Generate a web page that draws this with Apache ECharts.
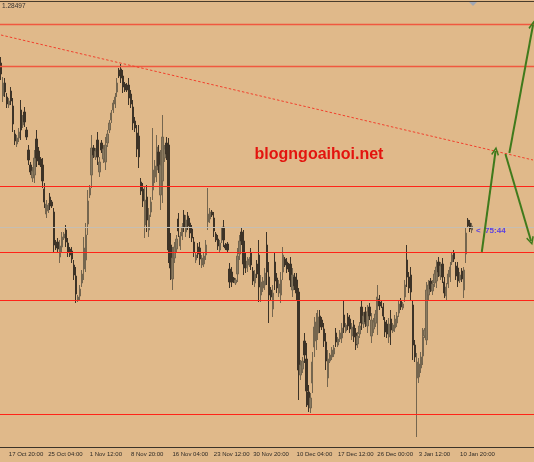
<!DOCTYPE html>
<html>
<head>
<meta charset="utf-8">
<script src="https://cdn.jsdelivr.net/npm/echarts@6/dist/echarts.min.js"></script>
<style>
  html, body { margin: 0; padding: 0; background: #e0b98a; }
  #chart { width: 534px; height: 462px; }
</style>
</head>
<body>
<div id="chart"></div>
<script>
// Candle prices (open / close / low / high), oldest first
const opens = [
  1.2790,1.2757,1.2770,1.2756,1.2748,1.2762,1.2747,1.2719,1.2709,1.2715,
  1.2743,1.2728,1.2741,1.2723,1.2703,1.2688,1.2675,1.2678,1.2714,1.2702,
  1.2694,1.2688,1.2664,1.2639,1.2642,1.2656,1.2651,1.2641,1.2611,1.2611,
  1.2596,1.2606,1.2615,1.2623,1.2610,1.2604,1.2602,1.2588,1.2577,1.2553,
  1.2557,1.2570,1.2584,1.2593,1.2629,1.2658,1.2678,1.2705,1.2696,1.2713,
  1.2681,1.2710,1.2694,1.2691,1.2710,1.2723,1.2733,1.2743,1.2749,1.2761,
  1.2783,1.2784,1.2777,1.2769,1.2768,1.2768,1.2759,1.2746,1.2732,1.2720,
  1.2717,1.2671,1.2664,1.2628,1.2656,1.2623,1.2641,1.2663,1.2676,1.2683,
  1.2701,1.2658,1.2672,1.2695,1.2710,1.2708,1.2608,1.2574,1.2595,1.2604,
  1.2634,1.2607,1.2617,1.2638,1.2621,1.2637,1.2630,1.2624,1.2611,1.2593,
  1.2606,1.2605,1.2588,1.2589,1.2598,1.2631,1.2634,1.2641,1.2635,1.2619,
  1.2614,1.2603,1.2614,1.2626,1.2608,1.2609,1.2584,1.2581,1.2575,1.2570,
  1.2579,1.2599,1.2621,1.2612,1.2595,1.2585,1.2588,1.2600,1.2582,1.2570,
  1.2589,1.2598,1.2558,1.2565,1.2568,1.2608,1.2576,1.2563,1.2544,1.2591,
  1.2575,1.2560,1.2558,1.2581,1.2594,1.2591,1.2588,1.2589,1.2563,1.2576,
  1.2573,1.2561,1.2478,1.2484,1.2512,1.2494,1.2461,1.2445,1.2470,1.2506,
  1.2512,1.2520,1.2537,1.2533,1.2524,1.2511,1.2475,1.2492,1.2496,1.2499,
  1.2520,1.2508,1.2514,1.2515,1.2538,1.2522,1.2536,1.2534,1.2517,1.2528,
  1.2520,1.2509,1.2519,1.2546,1.2529,1.2541,1.2527,1.2546,1.2517,1.2524,
  1.2530,1.2530,1.2554,1.2551,1.2546,1.2531,1.2529,1.2516,1.2534,1.2522,
  1.2525,1.2530,1.2540,1.2552,1.2545,1.2556,1.2593,1.2576,1.2578,1.2548,
  1.2508,1.2475,1.2476,1.2485,1.2497,1.2517,1.2513,1.2558,1.2572,1.2562,
  1.2570,1.2572,1.2591,1.2577,1.2589,1.2571,1.2557,1.2569,1.2576,1.2591,
  1.2600,1.2587,1.2585,1.2573,1.2582,1.2563,1.2599,1.2633,1.2630,1.2623
];
const closes = [
  1.2779,1.2770,1.2761,1.2749,1.2752,1.2752,1.2729,1.2712,1.2715,1.2721,
  1.2723,1.2735,1.2731,1.2716,1.2693,1.2681,1.2682,1.2695,1.2695,1.2692,
  1.2688,1.2672,1.2651,1.2649,1.2648,1.2647,1.2647,1.2608,1.2605,1.2604,
  1.2607,1.2616,1.2619,1.2611,1.2601,1.2598,1.2594,1.2578,1.2559,1.2556,
  1.2564,1.2579,1.2605,1.2618,1.2652,1.2665,1.2705,1.2698,1.2702,1.2696,
  1.2691,1.2703,1.2704,1.2708,1.2719,1.2730,1.2740,1.2750,1.2756,1.2770,
  1.2777,1.2775,1.2766,1.2763,1.2763,1.2755,1.2749,1.2730,1.2725,1.2704,
  1.2696,1.2662,1.2652,1.2653,1.2633,1.2638,1.2651,1.2683,1.2687,1.2706,
  1.2687,1.2688,1.2716,1.2704,1.2699,1.2603,1.2585,1.2595,1.2606,1.2614,
  1.2622,1.2617,1.2626,1.2626,1.2633,1.2627,1.2620,1.2615,1.2601,1.2598,
  1.2599,1.2594,1.2595,1.2597,1.2608,1.2639,1.2641,1.2638,1.2622,1.2613,
  1.2607,1.2610,1.2622,1.2613,1.2605,1.2603,1.2571,1.2571,1.2571,1.2573,
  1.2597,1.2612,1.2612,1.2589,1.2585,1.2592,1.2594,1.2588,1.2572,1.2579,
  1.2579,1.2566,1.2571,1.2572,1.2580,1.2581,1.2558,1.2556,1.2560,1.2572,
  1.2565,1.2569,1.2573,1.2598,1.2588,1.2584,1.2583,1.2573,1.2578,1.2567,
  1.2560,1.2483,1.2488,1.2492,1.2498,1.2462,1.2448,1.2455,1.2491,1.2526,
  1.2531,1.2536,1.2526,1.2526,1.2512,1.2492,1.2494,1.2498,1.2503,1.2505,
  1.2511,1.2514,1.2520,1.2525,1.2526,1.2528,1.2527,1.2524,1.2526,1.2516,
  1.2508,1.2517,1.2527,1.2530,1.2537,1.2531,1.2541,1.2537,1.2533,1.2531,
  1.2539,1.2556,1.2547,1.2547,1.2537,1.2521,1.2519,1.2529,1.2523,1.2528,
  1.2534,1.2537,1.2549,1.2546,1.2549,1.2568,1.2576,1.2565,1.2561,1.2508,
  1.2496,1.2491,1.2489,1.2496,1.2516,1.2523,1.2563,1.2568,1.2564,1.2569,
  1.2579,1.2586,1.2581,1.2587,1.2576,1.2560,1.2566,1.2579,1.2586,1.2598,
  1.2594,1.2577,1.2572,1.2578,1.2574,1.2583,1.2620,1.2627,1.2624,1.2627
];
const lows = [
  1.2773,1.2751,1.2756,1.2745,1.2745,1.2748,1.2721,1.2708,1.2706,1.2711,
  1.2713,1.2725,1.2726,1.2713,1.2688,1.2678,1.2671,1.2670,1.2686,1.2688,
  1.2686,1.2665,1.2645,1.2635,1.2640,1.2643,1.2645,1.2600,1.2603,1.2600,
  1.2590,1.2601,1.2613,1.2606,1.2596,1.2596,1.2590,1.2573,1.2550,1.2551,
  1.2553,1.2566,1.2573,1.2581,1.2618,1.2655,1.2665,1.2695,1.2693,1.2688,
  1.2676,1.2700,1.2690,1.2683,1.2706,1.2720,1.2730,1.2740,1.2745,1.2756,
  1.2775,1.2770,1.2760,1.2761,1.2761,1.2748,1.2745,1.2723,1.2721,1.2696,
  1.2685,1.2658,1.2646,1.2615,1.2621,1.2616,1.2636,1.2653,1.2670,1.2671,
  1.2680,1.2643,1.2650,1.2691,1.2693,1.2590,1.2573,1.2563,1.2590,1.2600,
  1.2616,1.2603,1.2613,1.2621,1.2616,1.2623,1.2615,1.2611,1.2596,1.2590,
  1.2595,1.2588,1.2585,1.2586,1.2593,1.2623,1.2630,1.2636,1.2616,1.2611,
  1.2603,1.2600,1.2610,1.2606,1.2603,1.2601,1.2565,1.2566,1.2570,1.2568,
  1.2571,1.2593,1.2608,1.2578,1.2580,1.2581,1.2586,1.2583,1.2568,1.2566,
  1.2575,1.2551,1.2551,1.2561,1.2563,1.2568,1.2530,1.2553,1.2536,1.2563,
  1.2560,1.2556,1.2550,1.2573,1.2586,1.2580,1.2581,1.2566,1.2556,1.2563,
  1.2553,1.2453,1.2473,1.2480,1.2490,1.2446,1.2441,1.2440,1.2460,1.2496,
  1.2503,1.2513,1.2520,1.2523,1.2506,1.2483,1.2466,1.2490,1.2493,1.2496,
  1.2506,1.2506,1.2511,1.2510,1.2520,1.2520,1.2523,1.2520,1.2513,1.2511,
  1.2503,1.2505,1.2515,1.2523,1.2525,1.2526,1.2520,1.2533,1.2510,1.2520,
  1.2526,1.2518,1.2543,1.2545,1.2533,1.2516,1.2515,1.2510,1.2508,1.2520,
  1.2521,1.2526,1.2536,1.2543,1.2543,1.2551,1.2566,1.2560,1.2553,1.2493,
  1.2491,1.2416,1.2470,1.2480,1.2488,1.2515,1.2508,1.2553,1.2561,1.2558,
  1.2566,1.2565,1.2576,1.2573,1.2570,1.2555,1.2553,1.2565,1.2571,1.2588,
  1.2591,1.2573,1.2566,1.2570,1.2571,1.2555,1.2590,1.2625,1.2621,1.2620
];
const highs = [
  1.2796,1.2776,1.2775,1.2760,1.2755,1.2766,1.2755,1.2723,1.2718,1.2725,
  1.2753,1.2738,1.2746,1.2726,1.2708,1.2691,1.2686,1.2703,1.2723,1.2706,
  1.2696,1.2695,1.2670,1.2653,1.2650,1.2660,1.2653,1.2645,1.2613,1.2615,
  1.2613,1.2621,1.2621,1.2628,1.2615,1.2606,1.2606,1.2593,1.2586,1.2558,
  1.2568,1.2583,1.2616,1.2630,1.2663,1.2668,1.2718,1.2708,1.2705,1.2721,
  1.2696,1.2713,1.2708,1.2716,1.2723,1.2733,1.2743,1.2753,1.2760,1.2775,
  1.2785,1.2789,1.2783,1.2771,1.2770,1.2775,1.2763,1.2753,1.2736,1.2728,
  1.2728,1.2675,1.2670,1.2666,1.2668,1.2645,1.2656,1.2725,1.2693,1.2718,
  1.2708,1.2703,1.2738,1.2708,1.2716,1.2715,1.2620,1.2606,1.2611,1.2618,
  1.2640,1.2621,1.2630,1.2643,1.2638,1.2641,1.2635,1.2628,1.2616,1.2601,
  1.2610,1.2611,1.2598,1.2600,1.2613,1.2665,1.2645,1.2643,1.2641,1.2621,
  1.2618,1.2613,1.2626,1.2633,1.2610,1.2611,1.2590,1.2586,1.2576,1.2575,
  1.2605,1.2618,1.2625,1.2623,1.2600,1.2596,1.2596,1.2605,1.2586,1.2583,
  1.2593,1.2613,1.2578,1.2576,1.2585,1.2621,1.2591,1.2566,1.2568,1.2600,
  1.2580,1.2573,1.2581,1.2606,1.2596,1.2595,1.2590,1.2596,1.2585,1.2580,
  1.2580,1.2565,1.2493,1.2496,1.2520,1.2510,1.2468,1.2460,1.2501,1.2536,
  1.2540,1.2543,1.2543,1.2536,1.2530,1.2520,1.2503,1.2500,1.2506,1.2508,
  1.2525,1.2516,1.2523,1.2530,1.2553,1.2530,1.2540,1.2538,1.2530,1.2533,
  1.2525,1.2521,1.2531,1.2553,1.2541,1.2546,1.2548,1.2550,1.2540,1.2535,
  1.2543,1.2568,1.2558,1.2553,1.2550,1.2536,1.2533,1.2535,1.2543,1.2530,
  1.2538,1.2541,1.2553,1.2555,1.2551,1.2573,1.2608,1.2581,1.2586,1.2553,
  1.2513,1.2500,1.2495,1.2501,1.2525,1.2525,1.2571,1.2573,1.2575,1.2573,
  1.2583,1.2593,1.2596,1.2591,1.2595,1.2576,1.2570,1.2583,1.2591,1.2601,
  1.2603,1.2591,1.2591,1.2581,1.2585,1.2586,1.2626,1.2635,1.2633,1.2630
];

// Time axis: bar slots (incl. empty space on the right) and the labelled slots
const slotCount = 271;
const tickIndex = [4, 24, 45, 66, 87, 108, 128, 150, 171, 191, 212, 233];
const tickLabels = [
  '17 Oct 20:00', '25 Oct 04:00', '1 Nov 12:00', '8 Nov 20:00',
  '16 Nov 04:00', '23 Nov 12:00', '30 Nov 20:00', '10 Dec 04:00',
  '17 Dec 12:00', '26 Dec 00:00', '3 Jan 12:00', '10 Jan 20:00'
];

// Price levels and annotations
const levels = [1.2829, 1.2787, 1.2667, 1.2601, 1.2553, 1.2439];
const bidPrice = 1.2626;
const trendLine = [[0, 1.2818], [270, 1.2693]];
const arrows = [
  [[244.1, 1.2601], [250.7, 1.2702]],
  [[258.3, 1.2700], [269.5, 1.2828]],
  [[256.3, 1.2699], [268.5, 1.2612]]
];
const topPriceLabel = '1.28497';
const timerLabel = '<  75:44';
const siteLabel = 'blogngoaihoi.net';

const categories = Array.from({ length: slotCount }, () => '');
tickIndex.forEach((idx, k) => { categories[idx] = tickLabels[k]; });
const candles = opens.map((o, i) => [o, closes[i], lows[i], highs[i]]);
const isTick = (i) => categories[i] !== '';

const chevron = 'path://M5,0 L10,8.5 L8.4,9.5 L5,3.4 L1.6,9.5 L0,8.5 Z';
const arrowColor = '#3f7a1c';

const markData = [];
levels.forEach((v, i) => {
  markData.push({
    yAxis: v,
    lineStyle: i < 2
      ? { color: '#f0583f', width: 1.4, type: 'solid' }
      : { color: '#ff2418', width: 1, type: 'solid' }
  });
});
markData.push({ yAxis: bidPrice, lineStyle: { color: '#c6beb2', width: 1, type: 'solid' } });
markData.push([
  { coord: trendLine[0], lineStyle: { color: '#f2402c', width: 1, type: [2.5, 2] } },
  { coord: trendLine[1] }
]);
arrows.forEach(a => {
  markData.push([
    { coord: a[0], symbol: 'none', lineStyle: { color: arrowColor, width: 2, type: 'solid' } },
    { coord: a[1], symbol: chevron, symbolSize: [8, 9] }
  ]);
});

const chart = echarts.init(document.getElementById('chart'), null, { renderer: 'canvas' });
chart.setOption({
  animation: false,
  backgroundColor: '#e0b98a',
  grid: { left: 0, right: 0, top: 3, bottom: 15 },
  xAxis: {
    type: 'category',
    data: categories,
    boundaryGap: true,
    axisLine: { lineStyle: { color: '#3b3328', width: 1 } },
    axisTick: { interval: (i) => isTick(i), alignWithLabel: true, length: 3, lineStyle: { color: '#3b3328' } },
    axisLabel: {
      interval: (i) => isTick(i), align: 'left', fontSize: 6, color: '#2e2a25',
      margin: 4, fontFamily: 'Liberation Sans', hideOverlap: false
    },
    splitLine: { show: false }
  },
  yAxis: { type: 'value', min: 1.2406, max: 1.2850, show: false },
  series: [{
    type: 'candlestick',
    data: candles,
    barWidth: 1.8,
    emphasis: { disabled: true },
    itemStyle: {
      color: '#8a7a60', color0: '#3d3327',
      borderColor: '#75664f', borderColor0: '#3d3327', borderWidth: 1
    },
    markLine: {
      silent: true,
      animation: false,
      precision: 6,
      symbol: ['none', 'none'],
      label: { show: false },
      emphasis: { disabled: true },
      data: markData
    }
  }],
  graphic: [
    { type: 'line', shape: { x1: 0, y1: 1.5, x2: 534, y2: 1.5 }, style: { stroke: '#4a3c2c', lineWidth: 1 } },
    { type: 'polygon', shape: { points: [[469, 2], [477, 2], [473, 6]] }, style: { fill: '#a3a9b6' } },
    { type: 'text', left: 2, top: 3, style: { text: topPriceLabel, font: '6.5px "Liberation Sans"', fill: '#353230' } },
    { type: 'text', x: 319, y: 155, style: { text: siteLabel, font: 'bold 16px "Liberation Sans"', fill: '#e3140e', textAlign: 'center', textVerticalAlign: 'middle' } },
    { type: 'text', x: 476, y: 231, style: { text: timerLabel, font: 'bold 8px "Liberation Sans"', fill: '#5a3fe2', textVerticalAlign: 'middle' } }
  ]
});
</script>
</body>
</html>
